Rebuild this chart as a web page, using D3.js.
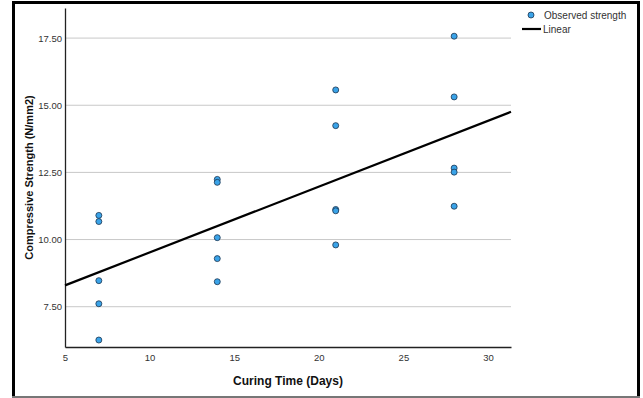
<!DOCTYPE html>
<html>
<head>
<meta charset="utf-8">
<script src="https://cdn.jsdelivr.net/npm/d3@7"></script>
<style>
  html, body { margin: 0; padding: 0; background: #fff; }
  svg { display: block; font-family: "Liberation Sans", Arial, sans-serif; }
</style>
</head>
<body>
<div id="chart"></div>
<script>
// curing days and observed strengths (N/mm2), five specimens per age
const days = [7, 7, 7, 7, 7, 14, 14, 14, 14, 14, 21, 21, 21, 21, 21, 28, 28, 28, 28, 28];
const strength = [10.90, 10.67, 8.47, 7.61, 6.26,
                  12.24, 12.13, 10.07, 9.29, 8.43,
                  15.57, 14.24, 11.12, 11.07, 9.80,
                  17.57, 15.31, 12.66, 12.51, 11.24];
const xTicks = [5, 10, 15, 20, 25, 30];
const yTicks = [7.5, 10, 12.5, 15, 17.5];
const xDomain = [5, 31.36];
const yDomain = [6, 18.62];

const width = 643, height = 398;
const margin = { top: 8, right: 132, bottom: 51, left: 65 };
const innerW = width - margin.left - margin.right;
const innerH = height - margin.top - margin.bottom;

const svg = d3.select('#chart').append('svg')
  .attr('width', width)
  .attr('height', height);

// outer frame
svg.append('rect')
  .attr('x', 13.5).attr('y', 2.5)
  .attr('width', 625).attr('height', 398)
  .attr('fill', 'none').attr('stroke', '#000').attr('stroke-width', 3);
svg.append('line')
  .attr('x1', 12).attr('x2', 640).attr('y1', 397).attr('y2', 397)
  .attr('stroke', '#777').attr('stroke-width', 2);

const g = svg.append('g').attr('transform', `translate(${margin.left},${margin.top})`);

const x = d3.scaleLinear().domain(xDomain).range([0, innerW]);
const y = d3.scaleLinear().domain(yDomain).range([innerH, 0]);

// gridlines
g.selectAll('.grid')
  .data(yTicks)
  .enter()
  .append('line')
  .attr('x1', 0).attr('x2', innerW)
  .attr('y1', d => y(d)).attr('y2', d => y(d))
  .attr('stroke', '#c8c8c8').attr('stroke-width', 1);

// axes
const xAxis = g.append('g')
  .attr('transform', `translate(0,${innerH})`)
  .call(d3.axisBottom(x).tickValues(xTicks).tickSize(0).tickPadding(7).tickFormat(d3.format('d')));
const yAxis = g.append('g')
  .call(d3.axisLeft(y).tickValues(yTicks).tickSize(0).tickPadding(3).tickFormat(d3.format('.2f')));

[xAxis, yAxis].forEach(a => {
  a.select('.domain').attr('stroke', '#222').attr('stroke-width', 1.3);
  a.selectAll('text').attr('fill', '#333').style('font-size', '9.5px');
});

// linear fit
const mx = d3.mean(days), my = d3.mean(strength);
const slope = d3.sum(days, (d, i) => (d - mx) * (strength[i] - my)) / d3.sum(days, d => (d - mx) ** 2);
const icpt = my - slope * mx;
g.append('line')
  .attr('x1', x(xDomain[0])).attr('y1', y(icpt + slope * xDomain[0]))
  .attr('x2', x(xDomain[1])).attr('y2', y(icpt + slope * xDomain[1]))
  .attr('stroke', '#000').attr('stroke-width', 2.2);

// points
g.selectAll('.pt')
  .data(days.map((d, i) => ({ day: d, val: strength[i] })))
  .enter()
  .append('circle')
  .attr('class', 'pt')
  .attr('cx', d => x(d.day))
  .attr('cy', d => y(d.val))
  .attr('r', 3)
  .attr('fill', '#3aa3e8')
  .attr('stroke', '#1a3550')
  .attr('stroke-width', 0.8);

// axis titles
svg.append('text')
  .attr('x', margin.left + innerW / 2).attr('y', 385)
  .attr('text-anchor', 'middle')
  .style('font-size', '12px').style('font-weight', 'bold')
  .attr('fill', '#111')
  .text('Curing Time (Days)');
svg.append('text')
  .attr('transform', `translate(33,${margin.top + innerH / 2}) rotate(-90)`)
  .attr('text-anchor', 'middle')
  .style('font-size', '11px').style('font-weight', 'bold')
  .attr('fill', '#111')
  .text('Compressive Strength (N/mm2)');

// legend
const lg = svg.append('g');
lg.append('circle')
  .attr('cx', 531).attr('cy', 15).attr('r', 3)
  .attr('fill', '#3aa3e8').attr('stroke', '#1a3550').attr('stroke-width', 0.8);
lg.append('text')
  .attr('x', 544).attr('y', 19)
  .style('font-size', '10px').attr('fill', '#333')
  .text('Observed strength');
lg.append('line')
  .attr('x1', 522).attr('x2', 541).attr('y1', 29).attr('y2', 29)
  .attr('stroke', '#000').attr('stroke-width', 2.2);
lg.append('text')
  .attr('x', 543).attr('y', 33)
  .style('font-size', '10px').attr('fill', '#333')
  .text('Linear');
</script>
</body>
</html>
